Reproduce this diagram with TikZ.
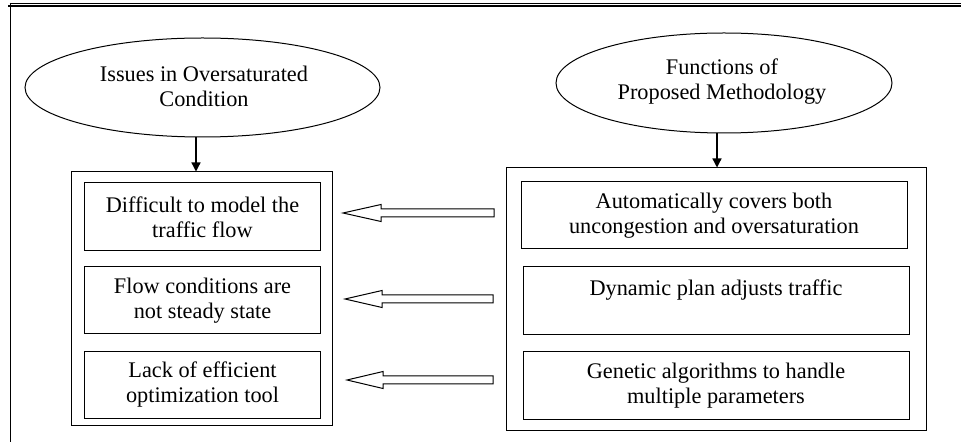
\documentclass[tikz,border=0pt]{standalone}
\usepackage{fontspec}
\setmainfont{Liberation Serif}
\usetikzlibrary{shapes.geometric,arrows.meta}
\begin{document}
\begin{tikzpicture}[x=1bp,y=-1bp,
  txt/.style={font=\fontsize{22.3bp}{25bp}\selectfont,align=center,text=black},
  oval/.style={draw,ellipse,line width=1bp,inner sep=0pt},
  outerbox/.style={draw,line width=1bp,inner sep=0pt},
  itembox/.style={draw,line width=1bp,inner sep=0pt},
  down/.style={-{Triangle[length=9bp,width=9bp]},line width=1.3bp},
  blockarrow/.style={draw,line width=1bp,fill=white,line join=miter}
]
\useasboundingbox (0,0) rectangle (961,442);
% page frame
\draw[line width=0.8bp] (9.5,3.5) -- (961,3.5);
\draw[line width=2bp] (8,5.8) -- (961,5.8);
\draw[line width=1bp] (10.5,3) -- (10.5,442);

% headings
\node[oval,minimum width=355bp,minimum height=99bp] (issues) at (202.5,87.5) {};
\node[txt] (issuesT) at (204,86) {Issues in Oversaturated\\Condition};
\node[oval,minimum width=336bp,minimum height=100bp] (funcs) at (724,83) {};
\node[txt] (funcsT) at (722,82) {Functions of\\Proposed Methodology};

% containers
\node[outerbox,minimum width=260bp,minimum height=253bp] (left) at (202,298.5) {};
\node[outerbox,minimum width=420bp,minimum height=262bp] (right) at (716,299) {};
\coordinate (leftin) at ([xshift=-6bp]left.north);
\coordinate (rightin) at ([xshift=1bp]right.north);

% issues list
\node[itembox,minimum width=235bp,minimum height=68bp] (l1) at (202.5,217) {};
\node[itembox,minimum width=235bp,minimum height=67bp] (l2) at (202.5,300.5) {};
\node[itembox,minimum width=235bp,minimum height=66bp] (l3) at (202.5,385) {};
\node[txt] (l1t) at (l1) {Difficult to model the\\traffic flow};
\node[txt] (l2t) at (l2) {Flow conditions are\\not steady state};
\node[txt] (l3t) at (l3) {Lack of efficient\\optimization tool};

% functions list
\node[itembox,minimum width=386bp,minimum height=67bp] (r1) at (714,215.5) {};
\node[itembox,minimum width=386bp,minimum height=68bp] (r2) at (716,301) {};
\node[itembox,minimum width=386bp,minimum height=67bp] (r3) at (716,385.5) {};
\node[txt] (r1t) at (r1) {Automatically covers both\\uncongestion and oversaturation};
\node[txt,anchor=north] (r2t) at ([yshift=-10bp]r2.north) {Dynamic plan adjusts traffic\\\strut};
\node[txt] (r3t) at (r3) {Genetic algorithms to handle\\multiple parameters};

% heading to container
\draw[down] (leftin |- issues.south) -- (leftin);
\draw[down] (rightin |- funcs.south) -- (rightin);

% hollow block arrows from functions to issues
\foreach \ty/\tx/\hb/\se in {213/343/381/494, 299/345/382/493, 380/347/383/493}{
  \draw[blockarrow] (\tx,\ty) -- (\hb,\ty-8.5) -- (\hb,\ty-4) -- (\se,\ty-4)
    -- (\se,\ty+4) -- (\hb,\ty+4) -- (\hb,\ty+8.5) -- cycle;
}
\end{tikzpicture}
\end{document}
